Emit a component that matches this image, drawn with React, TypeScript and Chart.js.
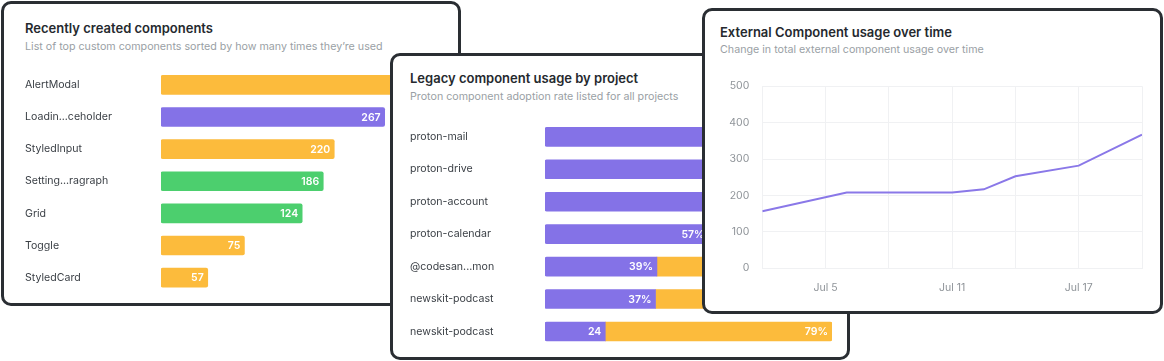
import React, { useEffect, useRef } from 'react';
import { Chart, registerables } from 'chart.js';

Chart.register(...registerables);

const FONT = 'Inter, "Noto Sans", sans-serif';
const YELLOW = '#fcbb3c';
const PURPLE = '#8472e7';
const GREEN = '#4ccf6e';
const LINE = '#8a78e8';

// Card 1: Recently created components
const recentComponents = ['AlertModal', 'Loadin...ceholder', 'StyledInput', 'Setting...ragraph', 'Grid', 'Toggle', 'StyledCard'];
const recentBarLengths = [300, 244, 189, 177, 154, 91, 51];
const recentCounts = ['', '267', '220', '186', '124', '75', '57'];
const recentColors = [YELLOW, PURPLE, YELLOW, GREEN, GREEN, YELLOW, YELLOW];

// Card 2: Legacy component usage by project
const projects = ['proton-mail', 'proton-drive', 'proton-account', 'proton-calendar', '@codesan...mon', 'newskit-podcast', 'newskit-podcast'];
const protonShare = [100, 100, 100, 57, 39, 38.5, 21];
const otherShare = [0, 0, 0, 43, 61, 61.5, 79];
const protonLabels = ['', '', '', '57%', '39%', '37%', '24'];
const otherLabels = ['', '', '', '', '', '', '79%'];

// Card 3: External Component usage over time
const usageDays = [2, 6, 11, 12.5, 14, 17, 20];
const usageTotals = [157, 208, 208, 217, 253, 282, 367];
const labeledDays = [5, 11, 17];

function valueLabelPlugin(labelSets: string[][]) {
  return {
    id: 'valueLabels',
    afterDatasetsDraw(chart: any) {
      const ctx = chart.ctx;
      ctx.save();
      ctx.font = `600 10.5px ${FONT}`;
      ctx.fillStyle = '#ffffff';
      ctx.textAlign = 'right';
      ctx.textBaseline = 'middle';
      chart.data.datasets.forEach((_ds: any, di: number) => {
        const meta = chart.getDatasetMeta(di);
        meta.data.forEach((el: any, i: number) => {
          const t = labelSets[di] && labelSets[di][i];
          if (!t) return;
          ctx.fillText(t, el.x - 4, el.y + 0.5);
        });
      });
      ctx.restore();
    },
  };
}

function ChartCanvas({ left, top, width, height, build }: any) {
  const ref = useRef<HTMLCanvasElement | null>(null);
  useEffect(() => {
    const chart = new Chart(ref.current as HTMLCanvasElement, build());
    return () => chart.destroy();
  }, []);
  return (
    <canvas
      ref={ref}
      width={width}
      height={height}
      style={{ position: 'absolute', left, top, width, height }}
    />
  );
}

function Card({ L, T, W, H, z, children }: any) {
  const B = 3;
  return (
    <div
      style={{
        position: 'absolute',
        left: L,
        top: T,
        width: W,
        height: H,
        boxSizing: 'border-box',
        border: `${B}px solid #2a2e33`,
        borderRadius: 10,
        background: '#ffffff',
        overflow: 'hidden',
        zIndex: z,
      }}
    >
      <div style={{ position: 'absolute', left: -(L + B), top: -(T + B), width: 1164, height: 361 }}>
        {children}
      </div>
    </div>
  );
}

function Title({ x, y, text }: any) {
  return (
    <div
      style={{
        position: 'absolute', left: x, top: y, whiteSpace: 'nowrap',
        fontFamily: FONT, fontSize: 13, lineHeight: '13px', fontWeight: 600, color: '#25292e',
      }}
    >
      {text}
    </div>
  );
}

function Subtitle({ x, y, text }: any) {
  return (
    <div
      style={{
        position: 'absolute', left: x, top: y, whiteSpace: 'nowrap',
        fontFamily: FONT, fontSize: 10.7, lineHeight: '10.7px', fontWeight: 400, color: '#9a9fa5',
      }}
    >
      {text}
    </div>
  );
}

const catAxis = (width: number) => ({
  grid: { display: false, drawTicks: false },
  border: { display: false },
  ticks: { crossAlign: 'far', padding: 0, color: '#3a3f45', font: { family: FONT, size: 10.6 } },
  afterFit: (s: any) => { s.width = width; },
});

function buildRecent() {
  return {
    type: 'bar',
    data: {
      labels: recentComponents,
      datasets: [{
        data: recentBarLengths,
        backgroundColor: recentColors,
        barThickness: 19,
        borderRadius: 2,
        borderSkipped: false,
      }],
    },
    options: {
      indexAxis: 'y',
      animation: false,
      responsive: false,
      devicePixelRatio: 1,
      layout: { padding: { top: 8.8, bottom: 4.4, right: 9, left: 0 } },
      plugins: { legend: { display: false }, tooltip: { enabled: false } },
      scales: {
        x: { display: false, min: 0, max: 300 },
        y: catAxis(136),
      },
    },
    plugins: [valueLabelPlugin([recentCounts])],
  } as any;
}

function buildLegacy() {
  return {
    type: 'bar',
    data: {
      labels: projects,
      datasets: [
        {
          data: protonShare,
          backgroundColor: PURPLE,
          barThickness: 19,
          borderRadius: { topLeft: 2, bottomLeft: 2, topRight: 0, bottomRight: 0 },
          borderSkipped: false,
        },
        {
          data: otherShare,
          backgroundColor: YELLOW,
          barThickness: 19,
          borderRadius: { topLeft: 0, bottomLeft: 0, topRight: 2, bottomRight: 2 },
          borderSkipped: false,
        },
      ],
    },
    options: {
      indexAxis: 'y',
      animation: false,
      responsive: false,
      devicePixelRatio: 1,
      layout: { padding: { top: 10.6, bottom: 7.3, right: 8, left: 0 } },
      plugins: { legend: { display: false }, tooltip: { enabled: false } },
      scales: {
        x: { display: false, stacked: true, min: 0, max: 100 },
        y: { ...catAxis(135), stacked: true },
      },
    },
    plugins: [valueLabelPlugin([protonLabels, otherLabels])],
  } as any;
}

function buildUsage() {
  const gridColor = '#f0f1f3';
  return {
    type: 'line',
    data: {
      datasets: [{
        data: usageDays.map((d, i) => ({ x: d, y: usageTotals[i] })),
        borderColor: LINE,
        borderWidth: 2,
        pointRadius: 0,
        tension: 0,
        fill: false,
      }],
    },
    options: {
      animation: false,
      responsive: false,
      devicePixelRatio: 1,
      layout: { padding: { top: 0, right: 0, left: 0, bottom: 0 } },
      plugins: { legend: { display: false }, tooltip: { enabled: false } },
      scales: {
        x: {
          type: 'linear',
          min: 2,
          max: 20,
          grid: { color: gridColor, drawTicks: false },
          border: { color: gridColor },
          ticks: {
            stepSize: 3,
            autoSkip: false,
            maxRotation: 0,
            padding: 13,
            color: '#8f9499',
            font: { family: FONT, size: 10.5 },
            callback: (v: any) => (labeledDays.includes(Number(v)) ? `Jul ${v}` : ''),
          },
          afterFit: (s: any) => { s.height = 37.7; },
        },
        y: {
          min: 0,
          max: 500,
          grid: { color: gridColor, drawTicks: false },
          border: { color: gridColor },
          ticks: {
            stepSize: 100,
            padding: 13,
            color: '#8f9499',
            font: { family: FONT, size: 10.5 },
          },
          afterFit: (s: any) => { s.width = 50.3; },
        },
      },
    },
  } as any;
}

export default function App() {
  return (
    <div style={{ position: 'fixed', left: 0, top: 0, width: 1164, height: 361, background: '#ffffff', overflow: 'hidden' }}>
      <Card L={1} T={1} W={460} H={305} z={1}>
        <Title x={25} y={22} text="Recently created components" />
        <Subtitle x={25} y={41.5} text="List of top custom components sorted by how many times they’re used" />
        <ChartCanvas left={25} top={60} width={420} height={240} build={buildRecent} />
      </Card>
      <Card L={390} T={53} W={460} H={307} z={2}>
        <Title x={410} y={72} text="Legacy component usage by project" />
        <Subtitle x={410} y={91.8} text="Proton component adoption rate listed for all projects" />
        <ChartCanvas left={410} top={110} width={430} height={245} build={buildLegacy} />
      </Card>
      <Card L={702} T={8} W={461} H={306} z={3}>
        <Title x={720} y={25.5} text="External Component usage over time" />
        <Subtitle x={720} y={44.8} text="Change in total external component usage over time" />
        <ChartCanvas left={712} top={67} width={443} height={239} build={buildUsage} />
      </Card>
    </div>
  );
}
